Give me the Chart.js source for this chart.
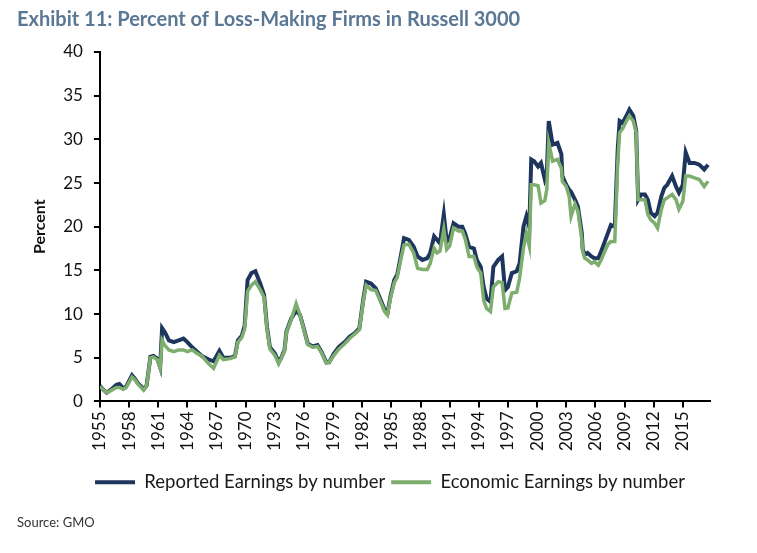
<!DOCTYPE html>
<html>
<head>
<meta charset="utf-8">
<script src="https://cdn.jsdelivr.net/npm/chart.js@4.4.1/dist/chart.umd.min.js"></script>
<style>
  html, body { margin: 0; padding: 0; background: #fff; }
  #wrap { width: 757px; height: 553px; }
</style>
</head>
<body>
<div id="wrap"><canvas id="lossChart"></canvas></div>
<script>
// Data
const years = [
  1955.0, 1955.3, 1955.7, 1956.2, 1956.7, 1957.0, 1957.4, 1957.7, 1958.3, 1958.6,
  1958.9, 1959.5, 1959.8, 1960.2, 1960.5, 1960.9, 1961.2, 1961.4, 1961.7, 1962.1,
  1962.6, 1963.1, 1963.6, 1964.0, 1964.5, 1965.0, 1965.5, 1966.2, 1966.7, 1967.3,
  1967.7, 1968.4, 1968.9, 1969.2, 1969.6, 1969.9, 1970.2, 1970.6, 1971.0, 1971.5,
  1971.9, 1972.2, 1972.5, 1973.0, 1973.4, 1973.7, 1974.0, 1974.2, 1974.7, 1975.2,
  1975.6, 1975.9, 1976.4, 1976.9, 1977.4, 1977.8, 1978.3, 1978.6, 1979.1, 1979.6,
  1980.2, 1980.7, 1981.2, 1981.7, 1982.1, 1982.4, 1982.9, 1983.4, 1983.9, 1984.3,
  1984.6, 1984.9, 1985.3, 1985.6, 1986.0, 1986.3, 1986.8, 1987.3, 1987.7, 1988.2,
  1988.7, 1989.0, 1989.4, 1989.7, 1990.0, 1990.4, 1990.7, 1991.0, 1991.4, 1991.9,
  1992.3, 1992.6, 1993.0, 1993.5, 1993.8, 1994.2, 1994.5, 1994.8, 1995.2, 1995.5,
  1996.0, 1996.4, 1996.7, 1997.0, 1997.4, 1997.9, 1998.2, 1998.6, 1998.9, 1999.2,
  1999.4, 1999.7, 2000.1, 2000.4, 2000.8, 2001.0, 2001.2, 2001.6, 2002.1, 2002.5,
  2002.6, 2003.0, 2003.3, 2003.5, 2003.9, 2004.2, 2004.6, 2004.7, 2004.9, 2005.2,
  2005.6, 2005.9, 2006.3, 2006.6, 2006.9, 2007.3, 2007.6, 2008.0, 2008.3, 2008.5,
  2008.8, 2009.2, 2009.5, 2009.9, 2010.2, 2010.4, 2010.7, 2011.1, 2011.4, 2011.7,
  2012.1, 2012.4, 2012.8, 2013.1, 2013.4, 2013.9, 2014.3, 2014.6, 2015.0, 2015.3,
  2015.7, 2016.2, 2016.7, 2017.2, 2017.6
];

const reported = [
  1.8, 1.4, 1.0, 1.4, 1.9, 2.0, 1.5, 1.7, 3.0, 2.6,
  2.1, 1.4, 1.8, 5.1, 5.2, 4.9, 3.9, 8.4, 7.9, 7.0,
  6.8, 7.0, 7.2, 6.8, 6.2, 5.7, 5.2, 4.8, 4.6, 5.8,
  5.0, 5.0, 5.2, 7.0, 7.5, 8.7, 13.9, 14.7, 14.9, 13.5,
  12.2, 8.5, 6.2, 5.5, 4.5, 5.1, 5.9, 8.0, 9.5, 10.4,
  9.9, 8.7, 6.6, 6.3, 6.45, 5.7, 4.5, 4.5, 5.5, 6.25,
  6.8, 7.4, 7.8, 8.35, 11.6, 13.7, 13.5, 12.95, 11.6, 10.5,
  10.1, 12.0, 13.9, 14.5, 16.8, 18.7, 18.5, 17.7, 16.6, 16.2,
  16.4, 17.0, 18.9, 18.5, 18.1, 21.4, 18.3, 18.7, 20.4, 20.0,
  20.0, 19.2, 17.7, 17.5, 16.2, 15.4, 13.1, 11.8, 11.4, 15.4,
  16.2, 16.6, 12.75, 13.1, 14.7, 14.9, 15.8, 20.0, 21.2, 20.0,
  27.7, 27.5, 26.9, 27.3, 25.4, 26.0, 32.1, 29.4, 29.6, 28.3,
  25.8, 24.8, 24.25, 24.0, 23.1, 22.3, 19.3, 17.4, 16.8, 17.0,
  16.6, 16.4, 16.4, 17.2, 18.1, 19.3, 20.2, 20.0, 28.85, 32.1,
  31.9, 32.7, 33.4, 32.7, 31.0, 23.1, 23.7, 23.7, 23.1, 21.6,
  21.2, 21.6, 23.5, 24.45, 24.8, 25.8, 24.6, 23.9, 24.8, 28.5,
  27.3, 27.3, 27.1, 26.55, 27.1
];

const economic = [
  1.7, 1.4, 1.0, 1.3, 1.6, 1.6, 1.4, 1.6, 2.8, 2.5,
  2.0, 1.3, 1.8, 5.0, 5.1, 4.8, 3.8, 7.0, 6.4, 5.9,
  5.7, 5.9, 5.9, 5.7, 5.9, 5.5, 5.2, 4.3, 3.8, 5.3,
  4.8, 4.9, 5.1, 6.8, 7.3, 8.3, 12.6, 13.3, 13.7, 12.8,
  11.9, 8.3, 6.0, 5.3, 4.3, 5.0, 5.8, 7.9, 9.4, 11.2,
  9.9, 8.6, 6.5, 6.2, 6.3, 5.6, 4.4, 4.5, 5.3, 6.0,
  6.6, 7.2, 7.7, 8.2, 11.4, 13.3, 12.8, 12.7, 11.4, 10.3,
  9.9, 11.8, 13.6, 14.2, 16.4, 17.9, 18.0, 17.0, 15.25, 15.1,
  15.1, 15.8, 17.55, 17.0, 17.2, 19.7, 17.4, 17.8, 19.85, 19.5,
  19.5, 18.6, 16.6, 16.6, 15.4, 14.7, 11.6, 10.65, 10.3, 13.1,
  13.7, 13.6, 10.65, 10.7, 12.4, 12.5, 14.1, 17.55, 19.3, 17.8,
  24.8, 24.8, 24.7, 22.7, 23.0, 24.25, 29.6, 27.5, 27.7, 26.7,
  25.2, 24.6, 23.5, 21.2, 22.6, 21.8, 18.6, 17.2, 16.4, 16.2,
  15.8, 16.0, 15.6, 16.2, 17.0, 18.0, 18.3, 18.3, 27.3, 30.8,
  31.2, 32.1, 32.7, 32.1, 30.8, 23.1, 23.1, 23.1, 21.4, 20.8,
  20.4, 19.85, 22.0, 23.1, 23.3, 23.7, 23.1, 22.0, 22.9, 25.8,
  25.8, 25.6, 25.4, 24.6, 25.2
];

const tickYears = [1955, 1958, 1961, 1964, 1967, 1970, 1973, 1976, 1979, 1982,
  1985, 1988, 1991, 1994, 1997, 2000, 2003, 2006, 2009, 2012, 2015];

const seriesNames = ['Reported Earnings by number', 'Economic Earnings by number'];

const FONT = 'Lato, "Open Sans", "DejaVu Sans", sans-serif';
const NAVY = '#1e355e';
const GREEN = '#7dae6e';

function toPoints(values) {
  return years.map((y, i) => ({ x: y, y: values[i] }));
}

// legend in the original sits a little left of the plot centre
const legendOffset = {
  id: 'legendOffset',
  afterLayout(c) {
    if (c.legend) c.legend.left -= 30;
  }
};

const ctx = document.getElementById('lossChart').getContext('2d');
const chart = new Chart(ctx, {
  type: 'line',
  data: {
    datasets: [{
      label: seriesNames[0],
      data: toPoints(reported),
      borderColor: NAVY,
      backgroundColor: NAVY,
      borderWidth: 4,
      pointRadius: 0,
      tension: 0,
      fill: false,
      order: 1
    }, {
      label: seriesNames[1],
      data: toPoints(economic),
      borderColor: GREEN,
      backgroundColor: GREEN,
      borderWidth: 3.5,
      pointRadius: 0,
      tension: 0,
      fill: false,
      order: 0
    }]
  },
  plugins: [legendOffset],
  options: {
    responsive: true,
    maintainAspectRatio: false,
    animation: false,
    layout: { padding: { left: 17, right: 47, top: 5, bottom: 10 } },
    plugins: {
      tooltip: { enabled: false },
      title: {
        display: true,
        text: 'Exhibit 11: Percent of Loss-Making Firms in Russell 3000',
        align: 'start',
        color: '#5a7893',
        font: { family: FONT, size: 20, weight: 'bold' },
        padding: { top: 3, bottom: 20 }
      },
      subtitle: {
        display: true,
        position: 'bottom',
        text: 'Source: GMO',
        align: 'start',
        color: '#333',
        font: { family: FONT, size: 13 },
        padding: { top: 14, bottom: 12 }
      },
      legend: {
        position: 'bottom',
        fullSize: false,
        labels: {
          color: '#1a1a1a',
          font: { family: FONT, size: 18.5 },
          boxWidth: 40,
          boxHeight: 4,
          padding: 6,
          generateLabels: (c) => Chart.defaults.plugins.legend.labels.generateLabels(c)
            .map(l => ({ ...l, lineWidth: 0 }))
            .sort((a, b) => a.datasetIndex - b.datasetIndex)
        }
      }
    },
    scales: {
      x: {
        type: 'linear',
        min: 1955,
        max: 2017.8,
        afterBuildTicks: (axis) => { axis.ticks = tickYears.map(v => ({ value: v })); },
        afterFit: (axis) => { axis.height += 12; },
        border: { color: '#000', width: 2 },
        grid: { drawOnChartArea: false, drawTicks: true, tickLength: 6, color: '#000', lineWidth: 2 },
        ticks: {
          autoSkip: false,
          minRotation: 90,
          maxRotation: 90,
          padding: 4,
          color: '#111',
          font: { family: FONT, size: 17 },
          callback: (v) => String(v)
        }
      },
      y: {
        min: 0,
        max: 40,
        border: { color: '#000', width: 2 },
        grid: { drawOnChartArea: false, drawTicks: true, tickLength: 6, color: '#000', lineWidth: 2 },
        ticks: {
          stepSize: 5,
          padding: 11,
          color: '#111',
          font: { family: FONT, size: 17 }
        },
        title: {
          display: true,
          text: 'Percent',
          color: '#111',
          font: { family: FONT, size: 16, weight: 'bold' },
          padding: { top: 13, bottom: 3 }
        }
      }
    }
  }
});
</script>
</body>
</html>
